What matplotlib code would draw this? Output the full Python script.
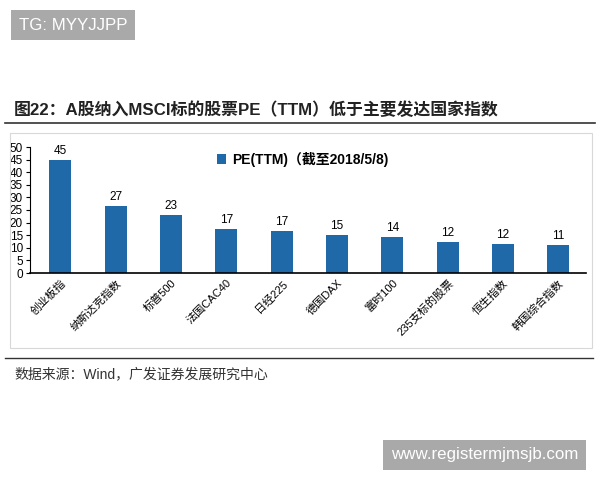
import matplotlib.pyplot as plt
from matplotlib.patches import Rectangle
from matplotlib.lines import Line2D

plt.rcParams['font.family'] = ['Liberation Sans', 'Noto Sans CJK SC', 'DejaVu Sans']

# 数据
indices = ["创业板指", "纳斯达克指数", "标普500", "法国CAC40", "日经225",
           "德国DAX", "富时100", "235支标的股票", "恒生指数", "韩国综合指数"]
pe_ttm = [45.0, 26.6, 23.0, 17.3, 16.6, 14.9, 14.1, 12.3, 11.6, 11.2]
y_ticks = list(range(0, 51, 5))

fig = plt.figure(figsize=(6, 4.8), dpi=100)
W, H = 600, 480

def fx(px):
    return px / W

def fy(py):
    return 1 - py / H

# 水印
fig.text(fx(19), fy(25), "TG: MYYJJPP", color="white", fontsize=12.2, va="center",
         bbox=dict(boxstyle="square,pad=0.45", fc="#a9a9a9", ec="none"))
fig.text(fx(391), fy(455), "www.registermjmsjb.com", color="white", fontsize=12.2, va="center",
         bbox=dict(boxstyle="square,pad=0.45", fc="#a9a9a9", ec="none"))

# 标题
fig.text(fx(14), fy(110), "图22：A股纳入MSCI标的股票PE（TTM）低于主要发达国家指数",
         fontsize=12.2, fontweight="bold", va="center", color="#222222")
fig.add_artist(Line2D([fx(5), fx(595)], [fy(123), fy(123)], color="#333333", lw=1.2))
fig.add_artist(Rectangle((fx(10), fy(348)), fx(582), fy(133) - fy(348), fill=False,
                         ec="#d8d8d8", lw=0.8))
fig.add_artist(Line2D([fx(5), fx(593)], [fy(358), fy(358)], color="#333333", lw=1.0))
fig.text(fx(14), fy(374), "数据来源：Wind，广发证券发展研究中心", fontsize=10,
         va="center", color="#333333")

# 柱状图
ax = fig.add_axes([fx(30), fy(273), fx(556), fy(147) - fy(273)])
x = range(len(indices))
bars = ax.bar(x, pe_ttm, width=0.4, color="#1f69a8")
for xi, v in zip(x, pe_ttm):
    ax.text(xi, v + 1.2, f"{v:.0f}", ha="center", va="bottom", fontsize=8.5)

ax.set_xlim(-0.55, 9.5)
ax.set_ylim(0, 50)
ax.set_yticks(y_ticks)
ax.tick_params(axis="y", labelsize=8.5, length=3, pad=2)
ax.tick_params(axis="x", length=0)
ax.set_xticks(list(x))
ax.set_xticklabels(indices, rotation=45, ha="right", rotation_mode="anchor",
                   fontsize=8)
for s in ["top", "right"]:
    ax.spines[s].set_visible(False)
ax.spines["bottom"].set_linewidth(1.2)

# 图例
ax.legend([bars], ["PE(TTM)（截至2018/5/8)"], loc="upper center",
          bbox_to_anchor=(0.49, 1.06), frameon=False, handlelength=0.7,
          handleheight=0.7, handletextpad=0.4,
          prop={"weight": "bold", "size": 10,
                "family": ['Liberation Sans', 'Noto Sans CJK SC']})

fig.savefig("out.png", dpi=100)
